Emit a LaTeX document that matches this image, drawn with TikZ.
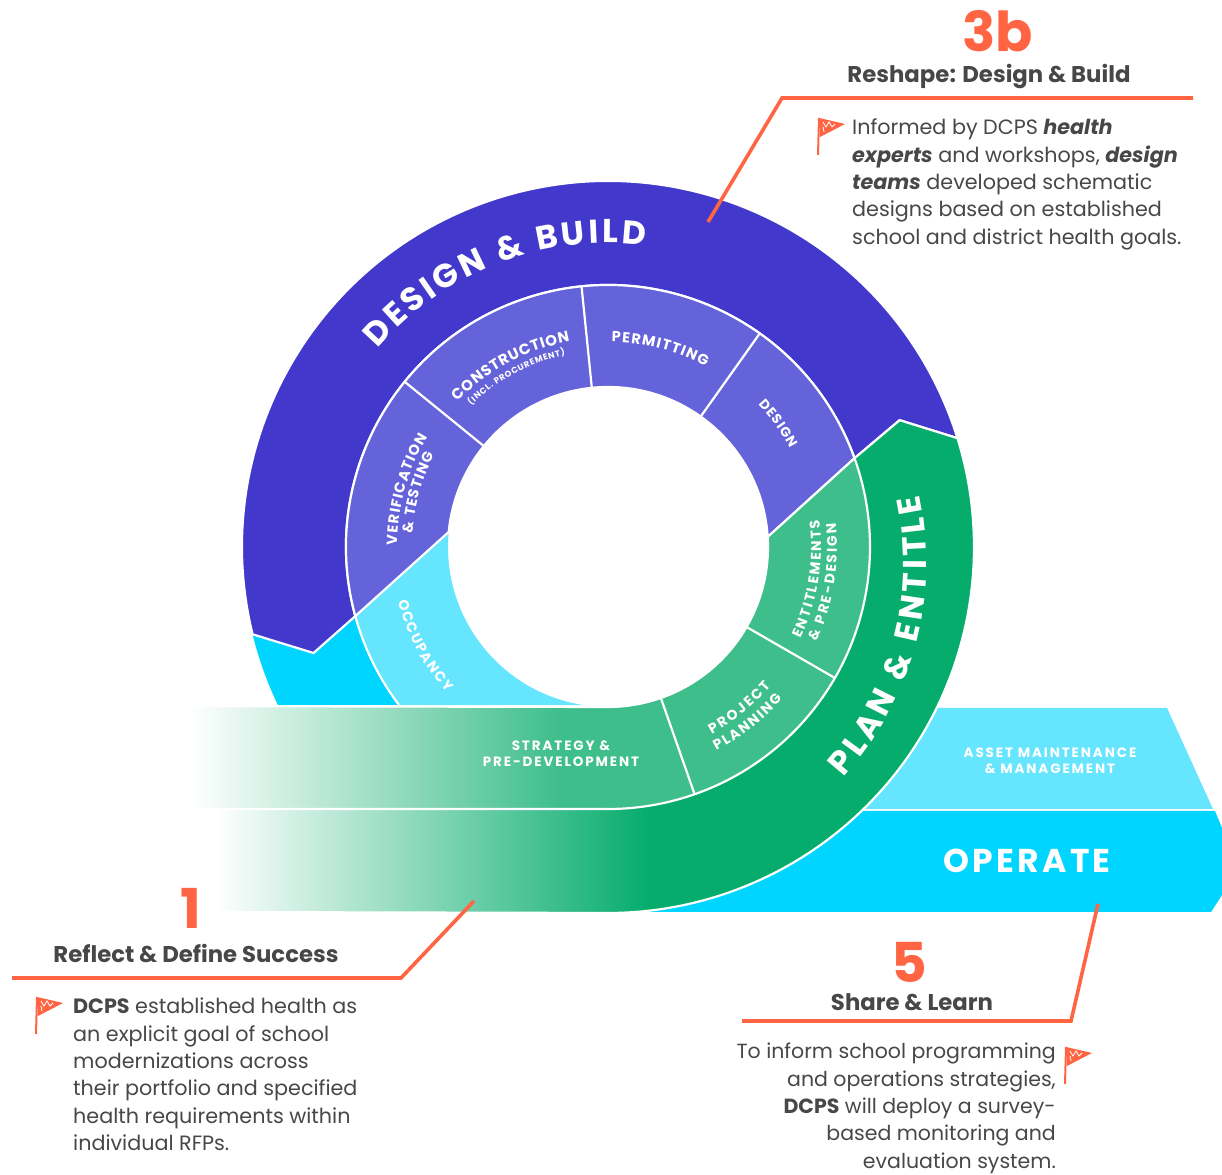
\documentclass[tikz,border=0pt]{standalone}
\usepackage{fontspec}
\setmainfont{Poppins}
\usetikzlibrary{decorations.text}
\definecolor{dkpurple}{HTML}{4239CC}
\definecolor{ltpurple}{HTML}{6563D9}
\definecolor{dkgreen}{HTML}{05AC6C}
\definecolor{ltgreen}{HTML}{3EBE8B}
\definecolor{dkcyan}{HTML}{00D5FF}
\definecolor{ltcyan}{HTML}{66E5FF}
\definecolor{accent}{HTML}{FF6543}
\definecolor{bodytext}{HTML}{474747}
\newcommand\arclab[5]{\path[decorate,decoration={text along path,text align={fit to path},text color=white,text={|\fontsize{#4}{#4}\selectfont\bfseries|#5}}] (#2:#1) arc[start angle=#2,end angle=#3,radius=#1];}
\tikzset{
  gap/.style={draw=white,line width=2.2pt,line join=round},
  leader/.style={draw=accent,line width=3.6pt,line join=miter},
  bignum/.style={text=accent,font={\fontsize{55}{55}\selectfont\bfseries},inner sep=0pt},
  heading/.style={text=bodytext,font={\fontsize{22.8}{28}\selectfont\bfseries},inner sep=0pt},
  body/.style={text=bodytext,font={\fontsize{20.7}{27.3}\selectfont},inner sep=0pt},
  flatlab/.style={text=white,align=center,inner sep=0pt,font={\fontsize{13.5}{15.8}\selectfont\bfseries\addfontfeature{LetterSpace=14}}},
  redflag/.pic={
    \fill[accent] (0,0) -- (26,-6) -- (1,-19) -- cycle;
    \draw[accent,line width=2pt] (0,0) -- (-1,-37);
    \draw[white,line width=0.8pt] (4,-4) -- (7,-9) -- (10,-4) -- (13,-9) -- (16,-6);
    \draw[white,line width=0.8pt] (4,-9) -- (5,-14);
  }
}
\begin{document}
\begin{tikzpicture}[x=1pt,y=1pt]
\useasboundingbox (0,0) rectangle (1222,1174);
% operate block
\fill[dkcyan] (620,1174-912) -- (1211,1174-912) -- (1222,1174-895) -- (1222,1174-828) -- (1215,1174-811) -- (800,1174-811) -- cycle;
\fill[ltcyan] (900,1174-708) -- (1167,1174-708) -- (1213,1174-809) -- (830,1174-809) -- cycle;
\begin{scope}[shift={(608,627)}]
  % occupy: outer and inner cyan
  \fill[dkcyan] (190:366) arc[start angle=190,end angle=205.6,radius=366] -- (217.1:262) arc[start angle=217.1,end angle=190,radius=262] -- cycle;
  \fill[ltcyan] (174.6:160) -- (195.3:262) arc[start angle=195.3,end angle=217.1,radius=262] -- (261:160) arc[start angle=261,end angle=174.6,radius=160];
  \draw[gap] (195.3:262) arc[start angle=195.3,end angle=217.1,radius=262];
  % design & build band
  \path[fill=dkpurple,gap] (17.3:366) arc[start angle=17.3,end angle=193.8,radius=366] -- (199.8:313) -- (195.3:262) arc[start angle=195.3,end angle=19.8,radius=262] -- (23.5:318) -- cycle;
  % inner purple ring
  \path[fill=ltpurple,gap] (3.6:160) arc[start angle=3.6,end angle=174.6,radius=160] -- (195.3:262) arc[start angle=195.3,end angle=19.8,radius=262] -- cycle;
  \draw[gap] (54.6:160) -- (54.6:262);
  \draw[gap] (95.8:160) -- (95.8:262);
  \draw[gap] (140.9:160) -- (140.9:262);
  % plan & entitle band, solid part
  \fill[dkgreen] (17.3:366) arc[start angle=17.3,end angle=-90,radius=366] -- ++(-4,0) -- ++(0,104) -- (-90:262) arc[start angle=-90,end angle=19.8,radius=262] -- (23.5:318) -- cycle;
  \fill[ltgreen] (3.6:160) arc[start angle=3.6,end angle=-90,radius=160] -- ++(-52,0) |- (-90:262) arc[start angle=-90,end angle=19.8,radius=262] -- cycle;
\end{scope}
% faded tails
\begin{scope}
  \clip (215,1174-912) -- (608,1174-912) arc[start angle=-90,end angle=-80,radius=366] -- ++({262*cos(-80)-366*cos(-80)},{104*sin(80)}) arc[start angle=-80,end angle=-90,radius=262] -- (215,1174-809) -- cycle;
  \shade[left color=white,middle color=dkgreen!37!white,right color=dkgreen] (215,1174-914) rectangle (650,1174-807);
\end{scope}
\shade[left color=white,middle color=ltgreen!42!white,right color=ltgreen] (190,1174-809) rectangle (560,1174-707);
\begin{scope}[shift={(608,627)}]
  \draw[gap] (23.5:318) -- (17.3:366) arc[start angle=17.3,end angle=-90,radius=366] -- (200-608,1174-912-627);
  \draw[gap] (3.6:160) -- (19.8:262) -- (23.5:318);
  \draw[gap] (19.8:262) arc[start angle=19.8,end angle=-90,radius=262] -- (150-608,1174-809-627);
  \draw[gap] (-30:160) -- (-30:262);
  \draw[gap] (-70.7:160) -- (-70.7:262);
  \draw[gap] (3.6:160) arc[start angle=3.6,end angle=-90,radius=160] -- (140-608,1174-706-627);
  % curved labels
  \arclab{304}{139.3}{83}{33}{DESIGN {\&} BUILD}
  \begin{scope}[shift={(-4.6,-14.7)}]
    \arclab{323}{-42}{11.9}{33}{PLAN {\&} ENTITLE}
  \end{scope}
  \arclab{209}{136}{100.5}{15}{CONSTRUCTION}
  \arclab{197}{134}{102.5}{8.5}{(INCL. PROCUREMENT)}
  \arclab{205}{89}{61.5}{14.5}{PERMITTING}
  \arclab{207}{43.5}{28.5}{13.5}{DESIGN}
  \arclab{211}{179.5}{148.5}{14.5}{VERIFICATION}
  \arclab{196}{176}{152}{14.5}{{\&} TESTING}
  \arclab{217}{194.5}{222}{14}{OCCUPANCY}
  \arclab{213}{-25.5}{7.3}{14}{ENTITLEMENTS}
  \arclab{229}{-24.5}{6}{14}{{\&} PRE-DESIGN}
  \arclab{214}{-61}{-40.5}{14}{PROJECT}
  \arclab{231}{-62}{-41}{14}{PLANNING}
\end{scope}
\node[flatlab] (strategy) at (561,1174-753.5) {STRATEGY \&\\PRE-DEVELOPMENT};
\node[flatlab] (asset) at (1050,1174-761) {ASSET MAINTENANCE\\\& MANAGEMENT};
\node[text=white,inner sep=0pt,font={\fontsize{33}{33}\selectfont\bfseries\addfontfeature{LetterSpace=10}}] (operate) at (1027,1174-861) {OPERATE};
% call-outs
\coordinate (a1) at (1193,1174-98);
\coordinate (a2) at (782,1174-98);
\coordinate (a3) at (708,1174-222);
\draw[leader] (a1) -- (a2) -- (a3);
\coordinate (b1) at (12,1174-978);
\coordinate (b2) at (401,1174-978);
\coordinate (b3) at (474,1174-901);
\draw[leader] (b1) -- (b2) -- (b3);
\coordinate (c1) at (742,1174-1021);
\coordinate (c2) at (1071,1174-1021);
\coordinate (c3) at (1098,1174-904);
\draw[leader] (c1) -- (c2) -- (c3);
\node[bignum] (n3b) at (998,1174-31) {3b};
\node[bignum] (n1) at (191,1174-908) {1};
\node[bignum] (n5) at (909,1174-962) {5};
\node[heading] (h3b) at (989,1174-77) {Reshape: Design \& Build};
\node[heading] (h1) at (196,1174-953) {Reflect \& Define Success};
\node[heading] (h5) at (912,1174-1002) {Share \& Learn};
\pic at (819,1174-118) {redflag};
\pic at (37,1174-997) {redflag};
\pic at (1066,1174-1047) {redflag};
\node[body,anchor=north west,align=left] (t3b) at (852,1174-119) {Informed by DCPS \textbf{\textit{health}}\\\textbf{\textit{experts}} and workshops, \textbf{\textit{design}}\\\textbf{\textit{teams}} developed schematic\\designs based on established\\school and district health goals.};
\node[body,anchor=north west,align=left] (t1) at (73,1174-998) {\textbf{DCPS} established health as\\an explicit goal of school\\modernizations across\\their portfolio and specified\\health requirements within\\individual RFPs.};
\node[body,anchor=north east,align=right,font={\fontsize{20.5}{27.3}\selectfont}] (t5) at (1056,1174-1043) {To inform school programming\\and operations strategies,\\\textbf{DCPS} will deploy a survey-\\based monitoring and\\evaluation system.};
\end{tikzpicture}
\end{document}
